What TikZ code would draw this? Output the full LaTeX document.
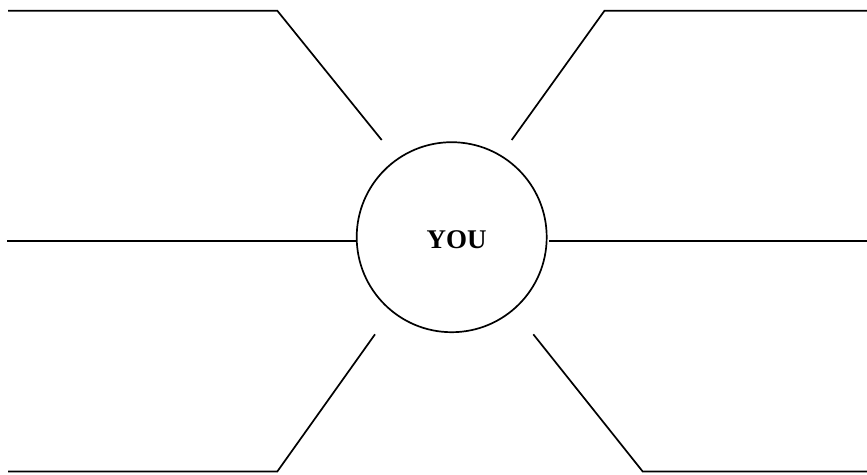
\documentclass[tikz,border=0pt]{standalone}
\usepackage{fontspec}
\setmainfont{Liberation Serif}
\begin{document}
\begin{tikzpicture}[x=1pt,y=-1pt,
  ray/.style={line width=1.7pt, line join=miter},
  hub/.style={circle, draw, line width=1.7pt, minimum size=190pt, inner sep=0pt},
  hubtext/.style={font=\bfseries\fontsize{27}{27}\selectfont, inner sep=0pt}]
\useasboundingbox (0,0) rectangle (867,474);
\node[hub] (you) at (451.7,237.2) {};
\node[hubtext] (youtext) at (456.5,240) {YOU};
% top-left
\coordinate (tla) at (8,10.7);
\coordinate (tlb) at (277.3,10.7);
\coordinate (tlc) at (381.7,140);
\draw[ray] (tla) -- (tlb) -- (tlc);
% top-right
\coordinate (tra) at (511.7,140);
\coordinate (trb) at (604.5,10.7);
\coordinate (trc) at (867,10.7);
\draw[ray] (tra) -- (trb) -- (trc);
% middle
\coordinate (mla) at (7.3,240.7);
\coordinate (mlb) at (355.5,240.7);
\draw[ray] (mla) -- (mlb);
\coordinate (mra) at (549,240.7);
\coordinate (mrb) at (867,240.7);
\draw[ray] (mra) -- (mrb);
% bottom-left
\coordinate (bla) at (8,471.5);
\coordinate (blb) at (277.3,471.5);
\coordinate (blc) at (375,334.3);
\draw[ray] (bla) -- (blb) -- (blc);
% bottom-right
\coordinate (bra) at (533.3,334.3);
\coordinate (brb) at (642.7,471.5);
\coordinate (brc) at (867,471.5);
\draw[ray] (bra) -- (brb) -- (brc);
\end{tikzpicture}
\end{document}
